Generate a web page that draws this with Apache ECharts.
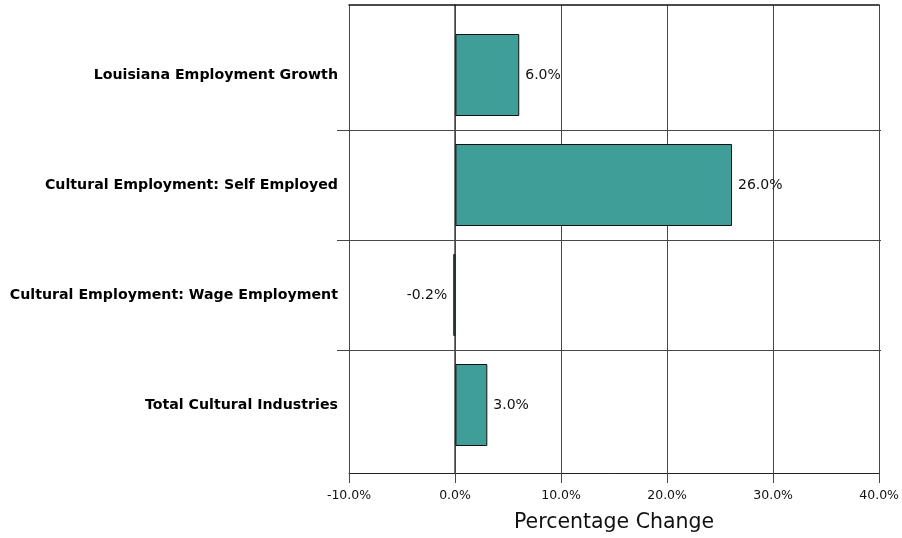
<!DOCTYPE html>
<html>
<head>
<meta charset="utf-8">
<script src="https://cdn.jsdelivr.net/npm/echarts@6/dist/echarts.min.js"></script>
<style>
  html, body { margin: 0; padding: 0; background: #ffffff; }
  #chart { width: 902px; height: 538px; }
</style>
</head>
<body>
<div id="chart"></div>
<script>
// Categories, top to bottom
const categories = [
  'Louisiana Employment Growth',
  'Cultural Employment: Self Employed',
  'Cultural Employment: Wage Employment',
  'Total Cultural Industries'
];
// Percentage change for each category
const changes = [6.0, 26.0, -0.2, 3.0];
// Value axis range and ticks (percent)
const axisMin = -10;
const axisMax = 40;
const axisStep = 10;
const axisTitle = 'Percentage Change';

const FONT = '"DejaVu Sans", Verdana, sans-serif';
const LINE = '#474747';

const chart = echarts.init(document.getElementById('chart'), null, { renderer: 'canvas' });

const barData = changes.map(v => ({
  value: v,
  label: { position: v < 0 ? 'left' : 'right' }
}));

chart.setOption({
  animation: false,
  backgroundColor: '#ffffff',
  grid: [
    // outer frame: value axis, gridlines, border
    { left: 349, right: 21, top: 5, bottom: 63 },
    // inner band area holding the bars
    { left: 349, right: 21, top: 20, bottom: 78 }
  ],
  xAxis: [
    {
      type: 'value', gridIndex: 0, position: 'bottom',
      min: axisMin, max: axisMax, interval: axisStep,
      name: axisTitle, nameLocation: 'middle', nameGap: 39,
      nameTextStyle: { fontFamily: FONT, fontSize: 20.5, color: '#111' },
      axisLine: { show: true, lineStyle: { color: '#222', width: 1 } },
      axisTick: { show: true, inside: false, length: 10, lineStyle: { color: LINE } },
      axisLabel: {
        margin: 16, fontFamily: FONT, fontSize: 12.5, color: '#111',
        formatter: v => v.toFixed(1) + '%'
      },
      splitLine: { show: true, lineStyle: { color: LINE, width: 1 } }
    },
    {
      type: 'value', gridIndex: 0, position: 'top',
      min: axisMin, max: axisMax, interval: axisStep,
      axisLine: { show: true, lineStyle: { color: '#111', width: 1.5 } },
      axisTick: { show: false }, axisLabel: { show: false }, splitLine: { show: false }
    },
    {
      type: 'value', gridIndex: 1,
      min: axisMin, max: axisMax, interval: axisStep,
      show: false, splitLine: { show: false }
    }
  ],
  yAxis: [
    {
      type: 'value', gridIndex: 0, position: 'left', min: 0, max: 1,
      axisLine: { show: true, lineStyle: { color: LINE, width: 1.5 } },
      axisTick: { show: false }, axisLabel: { show: false }, splitLine: { show: false }
    },
    {
      type: 'category', gridIndex: 1, position: 'left', inverse: true,
      data: categories,
      axisLine: { show: false }, axisTick: { show: false }, splitLine: { show: false },
      axisLabel: {
        margin: 11, fontFamily: FONT, fontSize: 14.2, fontWeight: 'bold', color: '#000'
      }
    },
    {
      // dividers between category bands
      type: 'value', gridIndex: 1, position: 'left', inverse: true,
      min: 0, max: categories.length, interval: 1,
      axisLine: { show: false },
      axisLabel: { show: false },
      axisTick: {
        show: true, inside: false, length: 12,
        customValues: [1, 2, 3],
        lineStyle: { color: LINE, width: 1 }
      },
      splitLine: {
        show: true,
        lineStyle: { color: LINE, width: 1 }
      }
    }
  ],
  series: [
    {
      type: 'bar',
      xAxisIndex: 2, yAxisIndex: 1,
      data: barData,
      barWidth: 82,
      itemStyle: { color: '#3f9e97', borderColor: '#111', borderWidth: 1 },
      label: {
        show: true, distance: 6,
        fontFamily: FONT, fontSize: 14, color: '#111',
        formatter: p => p.value.toFixed(1) + '%'
      }
    }
  ]
});
</script>
</body>
</html>
